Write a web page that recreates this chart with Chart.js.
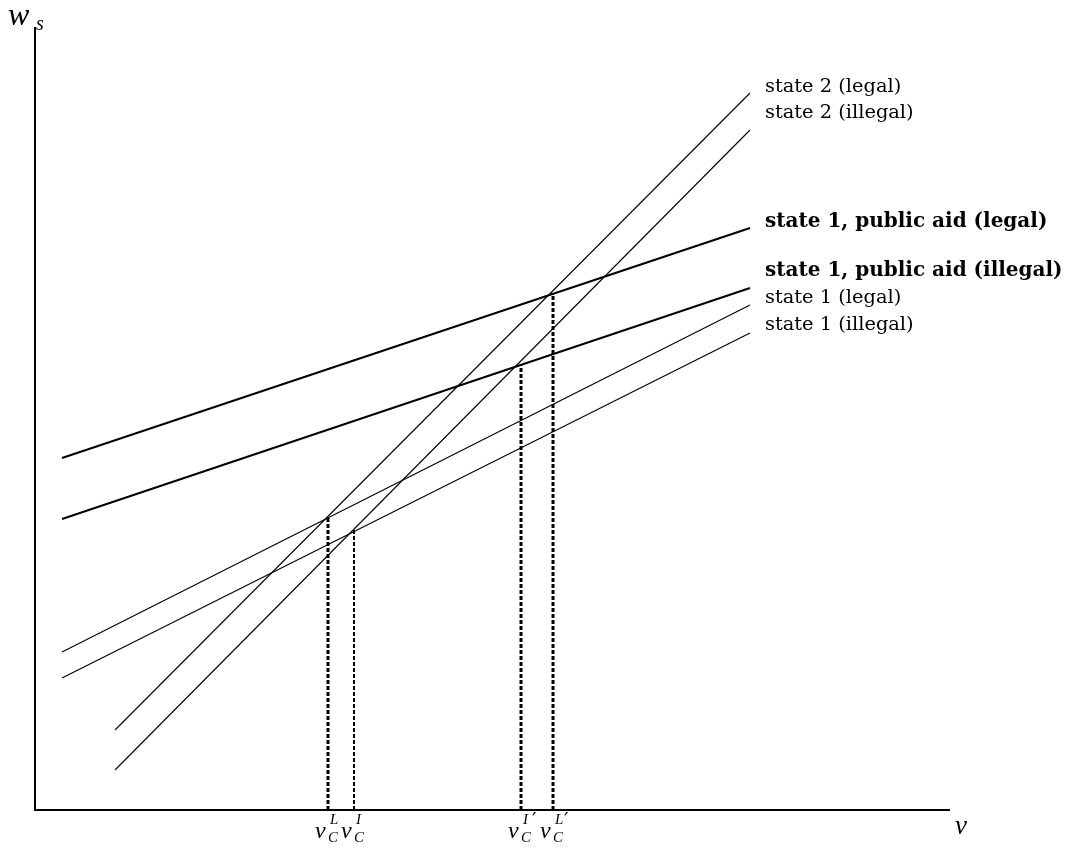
<!DOCTYPE html>
<html><head><meta charset="utf-8">
<script src="https://cdn.jsdelivr.net/npm/chart.js@4/dist/chart.umd.min.js"></script>
<style>html,body{margin:0;padding:0;background:#fff}#wrap{width:1071px;height:848px;position:relative}</style>
</head><body><div id="wrap"><canvas id="c"></canvas></div>
<script>
// Data (x: ν, y: w_s, in chart units)
const seriesNames = ["state 2 (legal)", "state 2 (illegal)", "state 1, public aid (legal)", "state 1, public aid (illegal)", "state 1 (legal)", "state 1 (illegal)"];
const state2LegalX = [80, 715];   const state2LegalY = [80, 717];
const state2IllegalX = [80, 715]; const state2IllegalY = [40, 680];
const aidLegalX = [27, 715];      const aidLegalY = [352, 582];
const aidIllegalX = [27, 715];    const aidIllegalY = [291, 522];
const state1LegalX = [27, 715];   const state1LegalY = [158, 505];
const state1IllegalX = [27, 715]; const state1IllegalY = [132, 477];
const cutoffNames = [["L",false],["I",false],["I",true],["L",true]];
const cutoffX = [293, 319, 486, 518];
const cutoffY = [292, 280, 446, 517];

const pts = (xs, ys) => xs.map((x, i) => ({x, y: ys[i]}));
const lineSets = [
  [state2LegalX, state2LegalY, 1.1, false],
  [state2IllegalX, state2IllegalY, 1.1, false],
  [aidLegalX, aidLegalY, 2, true],
  [aidIllegalX, aidIllegalY, 2, true],
  [state1LegalX, state1LegalY, 1.1, false],
  [state1IllegalX, state1IllegalY, 1.1, false]
];
const labelDy = [-6, -17, -6, -17, -7, -8];
const datasets = lineSets.map((s, i) => ({
  label: seriesNames[i], data: pts(s[0], s[1]), borderColor: '#000', borderWidth: s[2],
  pointRadius: 0, fill: false, tension: 0, clip: false, bold: s[3], idx: i
}));
const cutW = [3, 2, 3, 3];
cutoffX.forEach((cx, i) => datasets.push({
  label: 'cut' + i, data: [{x: cx, y: 0}, {x: cx, y: cutoffY[i]}], borderColor: '#000',
  borderWidth: cutW[i], borderDash: [4, 2], pointRadius: 0, fill: false, clip: false, cut: true
}));

const deco = {
  id: 'deco',
  afterDraw(chart) {
    const ctx = chart.ctx, a = chart.chartArea;
    ctx.save();
    ctx.strokeStyle = '#000'; ctx.lineWidth = 2;
    ctx.beginPath(); ctx.moveTo(a.left, a.top + 7); ctx.lineTo(a.left, a.bottom); ctx.lineTo(a.right, a.bottom); ctx.stroke();
    ctx.fillStyle = '#000'; ctx.textBaseline = 'middle'; ctx.textAlign = 'left';
    chart.data.datasets.forEach((ds, i) => {
      if (ds.cut) return;
      const meta = chart.getDatasetMeta(i); const p = meta.data[meta.data.length - 1];
      ctx.font = ds.bold ? 'bold 20px "DejaVu Serif"' : '19.4px "DejaVu Serif"';
      ctx.fillText(ds.label, p.x + 15, p.y + labelDy[ds.idx]);
    });
    // tick labels
    const xs = chart.scales.x;
    ctx.textBaseline = 'alphabetic';
    cutoffX.forEach((cx, i) => {
      const px = xs.getPixelForValue(cx);
      const x0 = px - 13, base = a.bottom + 28;
      ctx.font = 'italic 24px "Liberation Serif"';
      ctx.fillText('ν', x0, base);
      ctx.font = 'italic 15px "Liberation Serif"';
      ctx.fillText('C', x0 + 13, base + 4);
      ctx.fillText(cutoffNames[i][0], x0 + 15, base - 14);
      if (cutoffNames[i][1]) { ctx.font = '20px "DejaVu Sans"'; ctx.textBaseline = 'top'; ctx.fillText('′', x0 + 24, a.bottom + 1); ctx.textBaseline = 'alphabetic'; }
    });
    ctx.font = 'italic 27px "Liberation Serif"';
    ctx.fillText('ν', a.right + 5, a.bottom + 24);
    ctx.font = 'italic 32px "Liberation Serif"';
    ctx.fillText('w', 8, 25);
    ctx.font = 'italic 20px "Liberation Serif"';
    ctx.fillText('s', 36, 30);
    ctx.restore();
  }
};

new Chart(document.getElementById('c'), {
  type: 'line',
  data: { datasets },
  options: {
    responsive: true, maintainAspectRatio: false, animation: false,
    layout: { padding: { left: 35, right: 121, top: 20, bottom: 38 } },
    plugins: { legend: { display: false }, tooltip: { enabled: false } },
    scales: {
      x: { type: 'linear', min: 0, max: 915, display: false },
      y: { type: 'linear', min: 0, max: 790, display: false }
    }
  },
  plugins: [deco]
});
</script></body></html>
